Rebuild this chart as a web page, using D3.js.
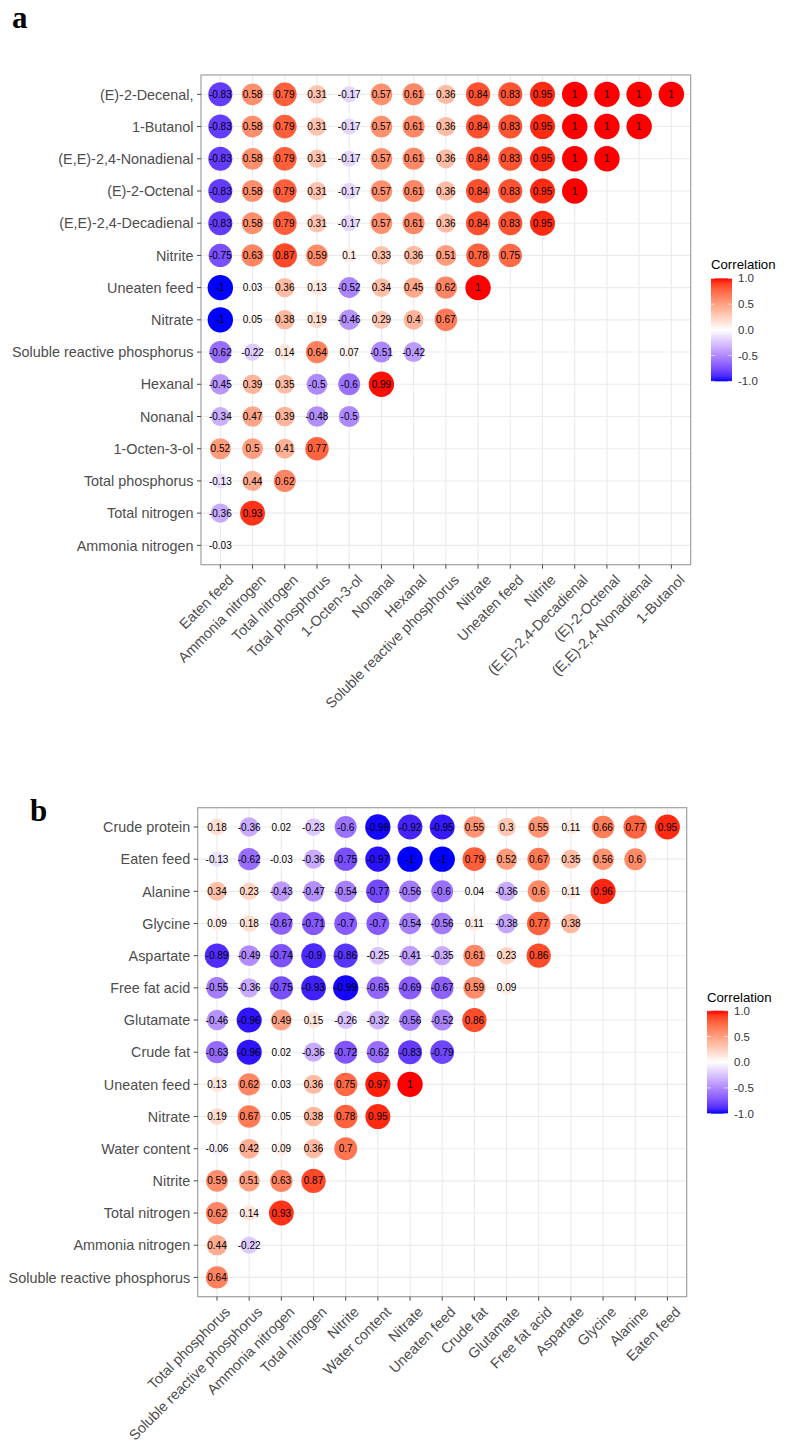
<!DOCTYPE html>
<html>
<head>
<meta charset="utf-8">
<script src="https://cdn.jsdelivr.net/npm/d3@7"></script>
<style>
    body { margin: 0; background: #fff; }
    svg { display: block; }
</style>
</head>
<body>
<svg id="chart"></svg>
<script>
// panel a
const colsA = ['Eaten feed', 'Ammonia nitrogen', 'Total nitrogen', 'Total phosphorus', '1-Octen-3-ol',
    'Nonanal', 'Hexanal', 'Soluble reactive phosphorus', 'Nitrate', 'Uneaten feed', 'Nitrite',
    '(E,E)-2,4-Decadienal', '(E)-2-Octenal', '(E,E)-2,4-Nonadienal', '1-Butanol'];
const rowsA = ['(E)-2-Decenal,', '1-Butanol', '(E,E)-2,4-Nonadienal', '(E)-2-Octenal', '(E,E)-2,4-Decadienal',
    'Nitrite', 'Uneaten feed', 'Nitrate', 'Soluble reactive phosphorus', 'Hexanal', 'Nonanal',
    '1-Octen-3-ol', 'Total phosphorus', 'Total nitrogen', 'Ammonia nitrogen'];
const valuesA = [
    [-0.83, 0.58, 0.79, 0.31, -0.17, 0.57, 0.61, 0.36, 0.84, 0.83, 0.95, 1, 1, 1, 1],
    [-0.83, 0.58, 0.79, 0.31, -0.17, 0.57, 0.61, 0.36, 0.84, 0.83, 0.95, 1, 1, 1],
    [-0.83, 0.58, 0.79, 0.31, -0.17, 0.57, 0.61, 0.36, 0.84, 0.83, 0.95, 1, 1],
    [-0.83, 0.58, 0.79, 0.31, -0.17, 0.57, 0.61, 0.36, 0.84, 0.83, 0.95, 1],
    [-0.83, 0.58, 0.79, 0.31, -0.17, 0.57, 0.61, 0.36, 0.84, 0.83, 0.95],
    [-0.75, 0.63, 0.87, 0.59, 0.1, 0.33, 0.36, 0.51, 0.78, 0.75],
    [-1, 0.03, 0.36, 0.13, -0.52, 0.34, 0.45, 0.62, 1],
    [-1, 0.05, 0.38, 0.19, -0.46, 0.29, 0.4, 0.67],
    [-0.62, -0.22, 0.14, 0.64, 0.07, -0.51, -0.42],
    [-0.45, 0.39, 0.35, -0.5, -0.6, 0.99],
    [-0.34, 0.47, 0.39, -0.48, -0.5],
    [0.52, 0.5, 0.41, 0.77],
    [-0.13, 0.44, 0.62],
    [-0.36, 0.93],
    [-0.03]
];

// panel b
const colsB = ['Total phosphorus', 'Soluble reactive phosphorus', 'Ammonia nitrogen', 'Total nitrogen',
    'Nitrite', 'Water content', 'Nitrate', 'Uneaten feed', 'Crude fat', 'Glutamate', 'Free fat acid',
    'Aspartate', 'Glycine', 'Alanine', 'Eaten feed'];
const rowsB = ['Crude protein', 'Eaten feed', 'Alanine', 'Glycine', 'Aspartate', 'Free fat acid',
    'Glutamate', 'Crude fat', 'Uneaten feed', 'Nitrate', 'Water content', 'Nitrite', 'Total nitrogen',
    'Ammonia nitrogen', 'Soluble reactive phosphorus'];
const valuesB = [
    [0.18, -0.36, 0.02, -0.23, -0.6, -0.99, -0.92, -0.95, 0.55, 0.3, 0.55, 0.11, 0.66, 0.77, 0.95],
    [-0.13, -0.62, -0.03, -0.36, -0.75, -0.97, -1, -1, 0.79, 0.52, 0.67, 0.35, 0.56, 0.6],
    [0.34, 0.23, -0.43, -0.47, -0.54, -0.77, -0.56, -0.6, 0.04, -0.36, 0.6, 0.11, 0.96],
    [0.09, 0.18, -0.67, -0.71, -0.7, -0.7, -0.54, -0.56, 0.11, -0.38, 0.77, 0.38],
    [-0.89, -0.49, -0.74, -0.9, -0.86, -0.25, -0.41, -0.35, 0.61, 0.23, 0.86],
    [-0.55, -0.36, -0.75, -0.93, -0.99, -0.65, -0.69, -0.67, 0.59, 0.09],
    [-0.46, -0.96, 0.49, 0.15, -0.26, -0.32, -0.56, -0.52, 0.86],
    [-0.63, -0.96, 0.02, -0.36, -0.72, -0.62, -0.83, -0.79],
    [0.13, 0.62, 0.03, 0.36, 0.75, 0.97, 1],
    [0.19, 0.67, 0.05, 0.38, 0.78, 0.95],
    [-0.06, 0.42, 0.09, 0.36, 0.7],
    [0.59, 0.51, 0.63, 0.87],
    [0.62, 0.14, 0.93],
    [0.44, -0.22],
    [0.64]
];

const legendTicks = [-1, -0.5, 0, 0.5, 1];

const W = 786, H = 1450;
const svg = d3.select('#chart').attr('width', W).attr('height', H);

const color = d3.scaleLinear()
    .domain([-1, 0, 1])
    .range(['#0000ff', '#ffffff', '#ff0000'])
    .interpolate(d3.interpolateLab);

const axisFont = 'Liberation Sans, Arial, sans-serif';

// gradient for the colour bar, shared by both legends
const grad = svg.append('defs').append('linearGradient')
    .attr('id', 'corr-grad')
    .attr('x1', 0).attr('y1', 1).attr('x2', 0).attr('y2', 0);
d3.range(0, 1.0001, 0.05).forEach((t) => {
    grad.append('stop')
        .attr('offset', t)
        .attr('stop-color', color(-1 + 2 * t));
});

function drawPanel(opt) {
    const size = opt.size;
    const x = d3.scalePoint().domain(opt.cols).range([opt.left, opt.left + size]).padding(0.6);
    const y = d3.scalePoint().domain(opt.rows).range([opt.top, opt.top + size]).padding(0.6);
    const bottom = opt.top + size;
    const right = opt.left + size;

    const cells = [];
    opt.values.forEach((row, i) => {
        row.forEach((v, j) => {
            cells.push({ row: opt.rows[i], col: opt.cols[j], value: v });
        });
    });
    const absExt = d3.extent(cells, (d) => Math.abs(d.value));
    const norm = d3.scaleLinear().domain(absExt).range([0, 1]);
    const radius = d3.scaleSqrt().domain([0, 1]).range([5.3, 12.7]);

    const g = svg.append('g');

    // panel label
    svg.append('text')
        .attr('x', opt.labelX)
        .attr('y', opt.labelY)
        .attr('font-family', 'Liberation Serif, Times New Roman, serif')
        .attr('font-weight', 'bold')
        .attr('font-size', 31)
        .text(opt.label);

    // grid
    g.append('g').selectAll('line.vgrid')
        .data(opt.cols).enter().append('line')
        .attr('x1', (d) => x(d)).attr('x2', (d) => x(d))
        .attr('y1', opt.top).attr('y2', bottom)
        .attr('stroke', '#ebebeb').attr('stroke-width', 1.1);
    g.append('g').selectAll('line.hgrid')
        .data(opt.rows).enter().append('line')
        .attr('y1', (d) => y(d)).attr('y2', (d) => y(d))
        .attr('x1', opt.left).attr('x2', right)
        .attr('stroke', '#ebebeb').attr('stroke-width', 1.1);

    // circles
    g.append('g').selectAll('circle')
        .data(cells).enter().append('circle')
        .attr('cx', (d) => x(d.col))
        .attr('cy', (d) => y(d.row))
        .attr('r', (d) => radius(norm(Math.abs(d.value))))
        .attr('fill', (d) => color(d.value));

    // value labels
    g.append('g').selectAll('text')
        .data(cells).enter().append('text')
        .attr('x', (d) => x(d.col))
        .attr('y', (d) => y(d.row))
        .attr('dy', '0.36em')
        .attr('text-anchor', 'middle')
        .attr('font-family', axisFont)
        .attr('font-size', 10)
        .attr('fill', '#000')
        .text((d) => String(d.value));

    // border
    g.append('rect')
        .attr('x', opt.left).attr('y', opt.top)
        .attr('width', size).attr('height', size)
        .attr('fill', 'none')
        .attr('stroke', '#a0a0a0')
        .attr('stroke-width', 1.2);

    // y axis
    const yAxis = g.append('g');
    yAxis.selectAll('line')
        .data(opt.rows).enter().append('line')
        .attr('x1', opt.left - 4).attr('x2', opt.left)
        .attr('y1', (d) => y(d)).attr('y2', (d) => y(d))
        .attr('stroke', '#333').attr('stroke-width', 0.9);
    yAxis.selectAll('text')
        .data(opt.rows).enter().append('text')
        .attr('x', opt.left - 7.5)
        .attr('y', (d) => y(d))
        .attr('dy', '0.36em')
        .attr('text-anchor', 'end')
        .attr('font-family', axisFont)
        .attr('font-size', 14.4)
        .attr('fill', '#4d4d4d')
        .text((d) => d);

    // x axis
    const xAxis = g.append('g');
    xAxis.selectAll('line')
        .data(opt.cols).enter().append('line')
        .attr('x1', (d) => x(d)).attr('x2', (d) => x(d))
        .attr('y1', bottom).attr('y2', bottom + 4)
        .attr('stroke', '#333').attr('stroke-width', 0.9);
    xAxis.selectAll('text')
        .data(opt.cols).enter().append('text')
        .attr('transform', (d) => 'translate(' + (x(d) + 7) + ',' + (bottom + 9) + ') rotate(-45)')
        .attr('dy', '0.7em')
        .attr('text-anchor', 'end')
        .attr('font-family', axisFont)
        .attr('font-size', 14.4)
        .attr('fill', '#4d4d4d')
        .text((d) => d);

    // legend
    const barX = right + 20.3;
    const barTop = opt.top + size / 2 - 41.5;
    const barH = 103;
    const barW = 21;
    const ly = d3.scaleLinear().domain([-1, 1]).range([barTop + barH, barTop]);
    const leg = svg.append('g');
    leg.append('text')
        .attr('x', barX)
        .attr('y', barTop - 9)
        .attr('font-family', axisFont)
        .attr('font-size', 13.2)
        .attr('fill', '#000')
        .text('Correlation');
    leg.append('rect')
        .attr('x', barX).attr('y', barTop)
        .attr('width', barW).attr('height', barH)
        .attr('fill', 'url(#corr-grad)');
    leg.selectAll('line.tl')
        .data(legendTicks).enter().append('line')
        .attr('x1', barX).attr('x2', barX + 4)
        .attr('y1', (d) => ly(d)).attr('y2', (d) => ly(d))
        .attr('stroke', '#fff').attr('stroke-width', 0.8).attr('opacity', 0.8);
    leg.selectAll('line.tr')
        .data(legendTicks).enter().append('line')
        .attr('x1', barX + barW - 4).attr('x2', barX + barW)
        .attr('y1', (d) => ly(d)).attr('y2', (d) => ly(d))
        .attr('stroke', '#fff').attr('stroke-width', 0.8).attr('opacity', 0.8);
    leg.selectAll('text.lab')
        .data(legendTicks).enter().append('text')
        .attr('x', barX + barW + 6)
        .attr('y', (d) => ly(d))
        .attr('dy', '0.36em')
        .attr('font-family', axisFont)
        .attr('font-size', 11.5)
        .attr('fill', '#333')
        .text((d) => d3.format('.1f')(d).replace('−', '-'));
}

drawPanel({
    label: 'a', labelX: 12, labelY: 28,
    left: 201, top: 75, size: 489.7,
    rows: rowsA, cols: colsA, values: valuesA
});
drawPanel({
    label: 'b', labelX: 30, labelY: 821,
    left: 197.7, top: 807.7, size: 489,
    rows: rowsB, cols: colsB, values: valuesB
});
</script>
</body>
</html>
